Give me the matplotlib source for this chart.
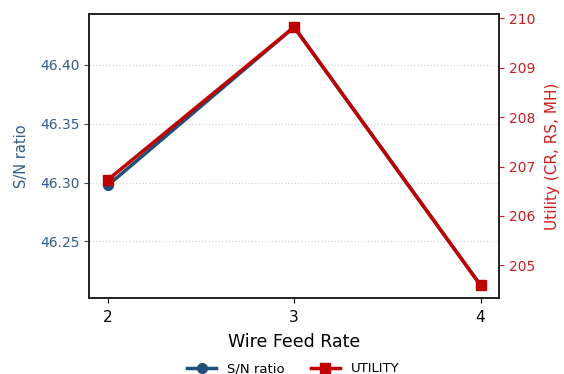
import matplotlib
matplotlib.use("Agg")
import matplotlib.pyplot as plt

levels = [2, 3, 4]
sn_ratio = [46.2975, 46.432, 46.2128]
utility = [206.73, 209.82, 204.60]

blue = "#1f4e79"
blue_text = "#305d8a"
red = "#c00000"
red_text = "#cc1f1f"

fig = plt.figure(figsize=(5.64, 3.74), dpi=100)
ax = fig.add_axes([0.158, 0.203, 0.727, 0.759])
ax2 = ax.twinx()

l1, = ax.plot(levels, sn_ratio, color=blue, marker="o", markersize=7, linewidth=2.5, label="S/N ratio")
l2, = ax2.plot(levels, utility, color=red, marker="s", markersize=7, linewidth=2.5, label="UTILITY")

ax.set_xticks(levels)
ax.set_yticks([46.25, 46.30, 46.35, 46.40])
ax.set_yticklabels(["46.25", "46.30", "46.35", "46.40"])
ax.set_xlabel("Wire Feed Rate", fontsize=12.5, labelpad=6)
ax.set_ylabel("S/N ratio", fontsize=10.5, color=blue_text, labelpad=7.5)
ax2.set_ylabel("Utility (CR, RS, MH)", fontsize=11, color=red_text, labelpad=7)
ax.tick_params(axis="y", colors=blue_text, labelsize=10)
ax.tick_params(axis="y", color=blue)
ax.tick_params(axis="x", labelsize=11, pad=5)
ax2.tick_params(axis="y", colors=red_text, labelsize=10)
ax.grid(axis="y", linestyle=":", color="#d5d5d5", linewidth=0.9)

for a in (ax, ax2):
    for s in a.spines.values():
        s.set_linewidth(1.2)
        s.set_color("#222222")

fig.legend(handles=[l1, l2], loc="lower center", bbox_to_anchor=(0.52, -0.035), ncol=2,
           frameon=False, fontsize=9.5, handlelength=2.2)

fig.savefig("out.png", dpi=100)
